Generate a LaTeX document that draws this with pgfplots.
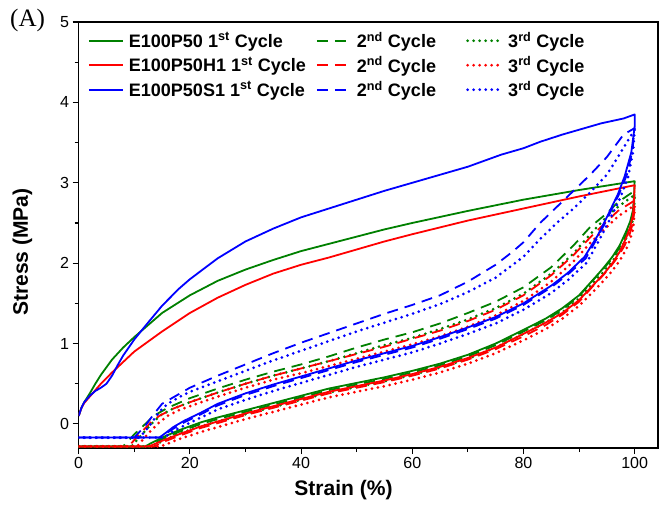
\documentclass[border=0pt]{standalone}
\usepackage{fontspec}
\setmainfont{Liberation Sans}
\newfontfamily\seriffont{Liberation Serif}
\usepackage{pgfplots}
\pgfplotsset{compat=1.18}
\definecolor{ogreen}{RGB}{0,128,0}
\definecolor{ored}{RGB}{255,0,0}
\definecolor{oblue}{RGB}{0,0,255}
\tikzset{
    c1/.style={line width=1.8pt, line join=round},
    c2/.style={line width=1.8pt, line join=round, dash pattern=on 11pt off 7pt},
    c3/.style={line width=3pt, line cap=round, line join=round, dash pattern=on 0pt off 6pt},
}

\begin{document}
\begin{tikzpicture}
\begin{axis}[
    scale only axis, width=578pt, height=425pt,
    xmin=0, xmax=104.2, ymin=-0.3, ymax=5,
    xtick={0,20,...,100}, ytick={0,1,...,5},
    minor x tick num=1, minor y tick num=1,
    tick pos=left, tick align=outside,
    major tick length=6pt, minor tick length=4pt,
    axis line style={line width=1.2pt},
    every tick/.style={line width=1.1pt, black},
    tick label style={font=\fontsize{16}{19}\selectfont},
    /pgf/number format/assume math mode=true,
    xlabel={Strain (\%)}, ylabel={Stress (MPa)},
    label style={font=\fontsize{21}{25}\selectfont\bfseries},
    xlabel style={at={(rel axis cs:0.457,0)}, anchor=center, yshift=-42pt},
    ylabel style={at={(rel axis cs:0,0.46)}, anchor=center, yshift=56pt},
    legend columns=3,
    legend cell align=left,
    legend image code/.code={\draw[#1] (0pt,0pt) -- (34pt,0pt);},
    legend style={at={(rel axis cs:0,1)}, anchor=north west, xshift=6pt, yshift=-6pt,
        draw=none, fill=none, font=\fontsize{18}{21}\selectfont\bfseries,
        row sep=3.5pt,
        /tikz/every odd column/.style={column sep=3pt},
        /tikz/column 2/.style={column sep=8pt},
        /tikz/column 4/.style={column sep=28pt}},
]
\coordinate (NW) at (rel axis cs:0,1);
\coordinate (SW) at (rel axis cs:0,0);
\coordinate (NE) at (rel axis cs:1,1);

% E100P50
\addplot[ogreen, c1] coordinates {
(0,0.1)(0.5,0.2)(1,0.27)(2,0.38)(3,0.5)(4,0.61)(6,0.8)(8,0.95)(10,1.08)(12,1.2)(15,1.38)(20,1.6)(25,1.78)(30,1.92)(35,2.04)(40,2.15)(45,2.24)(50,2.33)(55,2.42)(60,2.5)(70,2.65)(80,2.79)(90,2.91)(100,3.02)
(99.9,2.85)(99.7,2.66)(99.2,2.52)(98.5,2.4)(97.3,2.22)(96,2.08)(94.5,1.95)(93,1.83)(90,1.6)(87,1.44)(84,1.31)(80,1.17)(75,1.0)(70,0.86)(65,0.75)(60,0.66)(55,0.58)(50,0.51)(45,0.44)(40,0.35)(35,0.26)(30,0.17)(25,0.08)(22,0.02)(18,-0.08)(15,-0.17)(13,-0.24)(12,-0.28)(0,-0.28)
};
\addlegendentry{E100P50 1\textsuperscript{st} Cycle}
\addplot[ogreen, c2] coordinates {
(0,-0.28)(8,-0.28)(10,-0.13)(12,0.0)(13.5,0.1)(16,0.2)(20,0.32)(25,0.44)(30,0.55)(35,0.65)(40,0.74)(45,0.84)(50,0.95)(55,1.05)(60,1.14)(65,1.25)(70,1.38)(75,1.52)(80,1.7)(85,1.95)(89,2.22)(92,2.45)(95,2.62)(97,2.76)(100,2.9)
(99.9,2.72)(99.6,2.56)(99,2.43)(98,2.28)(96.8,2.14)(95.5,2.02)(94,1.9)(92.5,1.79)(90,1.59)(87,1.42)(84,1.29)(80,1.15)(75,0.98)(70,0.84)(65,0.73)(60,0.64)(55,0.56)(50,0.49)(45,0.42)(40,0.33)(35,0.24)(30,0.15)(25,0.06)(22,0.0)(18,-0.1)(15,-0.19)(13.5,-0.25)(12.8,-0.28)(0,-0.28)
};
\addlegendentry{2\textsuperscript{nd} Cycle}
\addplot[ogreen, c3] coordinates {
(0,-0.28)(9.5,-0.28)(11.5,-0.12)(13.5,0.03)(15,0.12)(17,0.19)(20,0.27)(25,0.39)(30,0.5)(35,0.6)(40,0.69)(45,0.78)(50,0.88)(55,0.98)(60,1.07)(65,1.18)(70,1.3)(75,1.44)(80,1.62)(85,1.87)(89,2.12)(92,2.36)(95,2.58)(97,2.7)(100,2.85)
(99.9,2.68)(99.6,2.52)(99,2.39)(98,2.24)(96.8,2.1)(95.5,1.98)(94,1.86)(92.5,1.75)(90,1.56)(87,1.39)(84,1.26)(80,1.12)(75,0.95)(70,0.81)(65,0.7)(60,0.61)(55,0.53)(50,0.46)(45,0.39)(40,0.3)(35,0.21)(30,0.12)(25,0.03)(22,-0.03)(18,-0.12)(15,-0.21)(14,-0.26)(13.4,-0.28)(0,-0.28)
};
\addlegendentry{3\textsuperscript{rd} Cycle}

% E100P50H1
\addplot[ored, c1] coordinates {
(0,0.1)(0.5,0.2)(1,0.26)(2,0.34)(3,0.42)(4,0.5)(6,0.64)(8,0.77)(10,0.9)(12,1.0)(15,1.15)(20,1.38)(25,1.57)(30,1.73)(35,1.87)(40,1.98)(45,2.07)(50,2.17)(55,2.27)(60,2.36)(70,2.53)(80,2.68)(90,2.83)(100,2.97)
(99.9,2.8)(99.7,2.6)(99.2,2.45)(98.5,2.32)(97.3,2.14)(96,2.0)(94.5,1.87)(93,1.76)(90,1.54)(87,1.38)(84,1.26)(80,1.12)(75,0.95)(70,0.82)(65,0.71)(60,0.62)(55,0.54)(50,0.47)(45,0.4)(40,0.31)(35,0.22)(30,0.13)(25,0.03)(22,-0.03)(18,-0.13)(15,-0.21)(13,-0.27)(12.3,-0.28)(0,-0.28)
};
\addlegendentry{E100P50H1 1\textsuperscript{st} Cycle}
\addplot[ored, c2] coordinates {
(0,-0.28)(9,-0.28)(11,-0.12)(13,0.02)(14.5,0.1)(17,0.19)(20,0.27)(25,0.39)(30,0.5)(35,0.6)(40,0.69)(45,0.78)(50,0.87)(55,0.96)(60,1.06)(65,1.16)(70,1.28)(75,1.42)(80,1.6)(85,1.85)(89,2.1)(92,2.32)(95,2.52)(97,2.65)(100,2.78)
(99.9,2.62)(99.6,2.48)(99.1,2.36)(98.2,2.22)(97,2.08)(95.7,1.96)(94.2,1.84)(92.7,1.73)(90,1.52)(87,1.36)(84,1.23)(80,1.09)(75,0.93)(70,0.8)(65,0.69)(60,0.6)(55,0.52)(50,0.45)(45,0.38)(40,0.29)(35,0.2)(30,0.11)(25,0.01)(22,-0.05)(18,-0.15)(15,-0.23)(13.6,-0.28)(0,-0.28)
};
\addlegendentry{2\textsuperscript{nd} Cycle}
\addplot[ored, c3] coordinates {
(0,-0.28)(10.5,-0.28)(12.5,-0.12)(14.5,0.02)(16,0.1)(18,0.17)(20,0.22)(25,0.34)(30,0.45)(35,0.55)(40,0.63)(45,0.72)(50,0.81)(55,0.9)(60,0.99)(65,1.09)(70,1.21)(75,1.35)(80,1.53)(85,1.77)(89,2.02)(92,2.25)(95,2.45)(97,2.58)(100,2.72)
(99.9,2.56)(99.7,2.42)(99.2,2.3)(98.4,2.16)(97.2,2.02)(95.9,1.9)(94.4,1.78)(92.9,1.67)(90,1.47)(87,1.31)(84,1.18)(80,1.04)(75,0.88)(70,0.75)(65,0.64)(60,0.55)(55,0.47)(50,0.4)(45,0.33)(40,0.24)(35,0.15)(30,0.06)(25,-0.04)(22,-0.1)(18,-0.19)(15.5,-0.26)(14.8,-0.28)(0,-0.28)
};
\addlegendentry{3\textsuperscript{rd} Cycle}

% E100P50S1
\addplot[oblue, c1] coordinates {
(0,0.1)(0.5,0.2)(1,0.27)(2,0.35)(3,0.41)(4,0.45)(5,0.5)(6,0.6)(7,0.73)(8,0.85)(10,1.05)(12,1.22)(15,1.47)(18,1.68)(20,1.8)(25,2.06)(30,2.27)(35,2.43)(40,2.57)(45,2.68)(50,2.79)(55,2.9)(60,3.0)(65,3.1)(70,3.2)(74,3.3)(76,3.35)(80,3.43)(83,3.51)(87,3.6)(90,3.66)(94,3.74)(98,3.8)(100,3.85)
(100,3.7)(99.4,3.38)(98.2,3.08)(97,2.86)(95.2,2.6)(93.4,2.35)(91,2.08)(88,1.88)(85,1.72)(80,1.5)(75,1.33)(70,1.2)(65,1.08)(60,0.97)(55,0.88)(50,0.79)(45,0.69)(40,0.59)(35,0.49)(30,0.38)(25,0.25)(22,0.14)(19,0.04)(17,-0.04)(15.5,-0.12)(14.5,-0.17)(0,-0.17)
};
\addlegendentry{E100P50S1 1\textsuperscript{st} Cycle}
\addplot[oblue, c2] coordinates {
(0,-0.17)(10,-0.17)(12,-0.02)(13.5,0.12)(15,0.25)(17,0.33)(20,0.45)(25,0.6)(30,0.74)(35,0.88)(40,1.01)(45,1.13)(50,1.25)(55,1.37)(60,1.48)(65,1.6)(70,1.77)(75,1.98)(78,2.14)(80,2.26)(83,2.5)(86,2.7)(89,2.9)(92,3.1)(95,3.32)(98,3.6)(100,3.68)
(99.6,3.4)(98.6,3.1)(97.2,2.86)(95.4,2.6)(93.5,2.34)(91.2,2.06)(88,1.86)(85,1.7)(80,1.48)(75,1.31)(70,1.18)(65,1.06)(60,0.95)(55,0.86)(50,0.77)(45,0.67)(40,0.57)(35,0.47)(30,0.36)(25,0.23)(22,0.12)(19,0.02)(17,-0.06)(15.5,-0.13)(14.6,-0.17)(0,-0.17)
};
\addlegendentry{2\textsuperscript{nd} Cycle}
\addplot[oblue, c3] coordinates {
(0,-0.17)(11,-0.17)(13,0.0)(14.5,0.15)(16,0.25)(18,0.33)(20,0.4)(25,0.53)(30,0.66)(35,0.79)(40,0.91)(45,1.03)(50,1.15)(55,1.26)(60,1.37)(65,1.49)(70,1.64)(75,1.82)(80,2.08)(83,2.3)(86,2.5)(89,2.68)(92,2.88)(95,3.1)(97,3.32)(99,3.55)(100,3.66)
(99.7,3.38)(98.8,3.07)(97.4,2.81)(95.5,2.54)(93.5,2.27)(91.3,2.0)(88,1.79)(85,1.63)(80,1.42)(75,1.25)(70,1.12)(65,1.0)(60,0.89)(55,0.8)(50,0.71)(45,0.61)(40,0.51)(35,0.41)(30,0.3)(25,0.18)(22,0.08)(19,-0.02)(17,-0.09)(15.8,-0.15)(15.2,-0.17)(0,-0.17)
};
\addlegendentry{3\textsuperscript{rd} Cycle}
\end{axis}
\node[font=\seriffont\fontsize{25}{29}\selectfont, anchor=center] at ([xshift=-51pt,yshift=2pt]NW) {(A)};
\pgfresetboundingbox
\path[use as bounding box] ([xshift=-78.5pt,yshift=-57pt]SW) rectangle ([xshift=1pt,yshift=22pt]NE);
\end{tikzpicture}
\end{document}
